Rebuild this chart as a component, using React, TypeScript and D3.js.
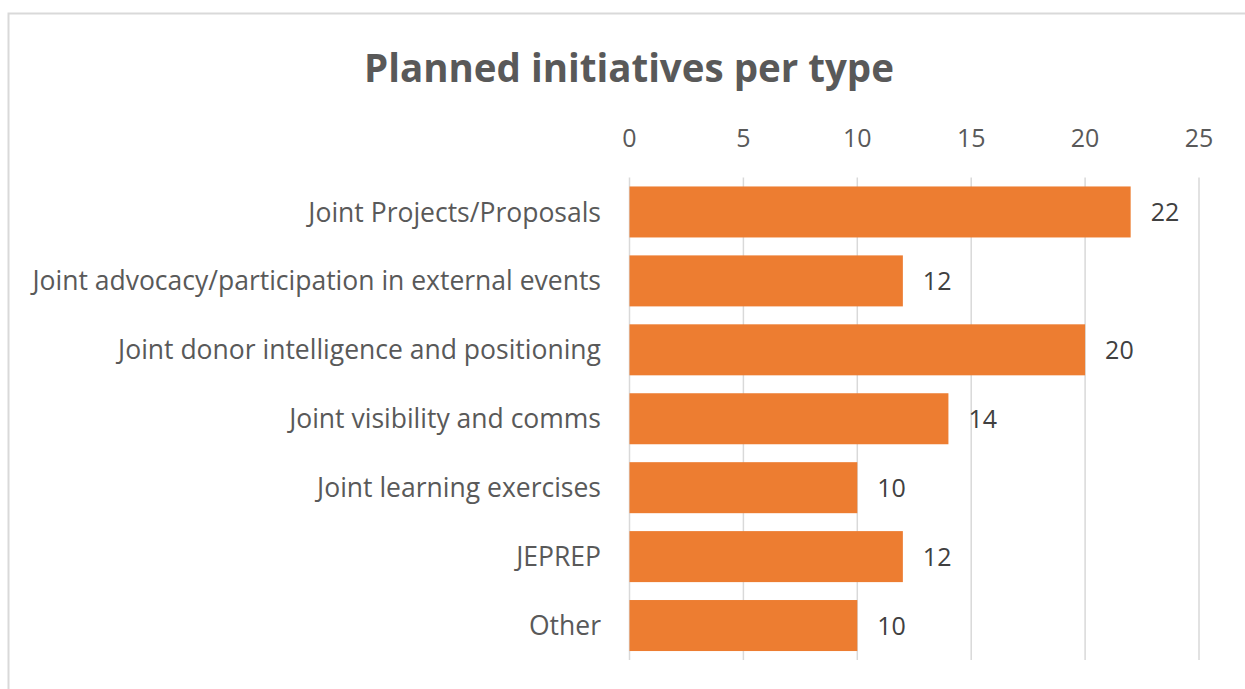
import React from "react";
import * as d3 from "d3";

const categories = [
  "Joint Projects/Proposals",
  "Joint advocacy/participation in external events",
  "Joint donor intelligence and positioning",
  "Joint visibility and comms",
  "Joint learning exercises",
  "JEPREP",
  "Other",
];
const values = [22, 12, 20, 14, 10, 12, 10];
const tickValues = [0, 5, 10, 15, 20, 25];
const title = "Planned initiatives per type";

export default function App() {
  const W = 1245, H = 689;
  const x = d3.scaleLinear().domain([0, 25]).range([629.5, 1199]);
  const y = d3.scaleBand<string>().domain(categories).range([177.5, 660]).paddingInner(0.26).paddingOuter(0.13);
  const font = "'Open Sans', sans-serif";
  return (
    <svg width={W} height={H} style={{ position: "absolute", left: 0, top: 0, background: "#fff" }}>
      <rect x={8.5} y={13.5} width={1245} height={700} fill="#fff" stroke="#d9d9d9" strokeWidth={2} />
      <text x={629} y={82} textAnchor="middle" fontFamily={font} fontWeight={700} fontSize={38.5} fill="#595959">{title}</text>
      {tickValues.map((t) => (
        <g key={t}>
          <line x1={x(t)} x2={x(t)} y1={177.5} y2={660} stroke="#d9d9d9" strokeWidth={1.5} />
          <text x={x(t)} y={147} textAnchor="middle" fontFamily={font} fontSize={25} fill="#595959">{t}</text>
        </g>
      ))}
      {categories.map((c, i) => (
        <g key={c}>
          <rect x={x(0)} y={y(c)!} width={x(values[i]) - x(0)} height={y.bandwidth()} fill="#ed7d31" />
          <text x={x(values[i]) + 20} y={y(c)! + y.bandwidth() / 2} dy="0.36em" fontFamily={font} fontSize={25} fill="#404040">{values[i]}</text>
          <text x={601} y={y(c)! + y.bandwidth() / 2} dy="0.36em" textAnchor="end" fontFamily={font} fontSize={26.5} fill="#595959">{c}</text>
        </g>
      ))}
    </svg>
  );
}
